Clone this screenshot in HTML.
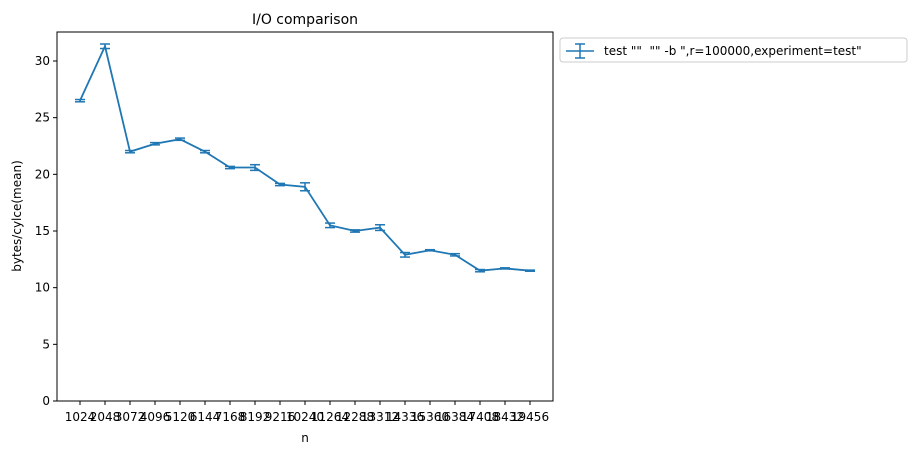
<!DOCTYPE html>
<html><head><meta charset="utf-8"><style>
body{margin:0;background:#fff;}
svg text{font-family:"DejaVu Sans","Liberation Sans",sans-serif;fill:#000;}
</style></head><body>
<svg width="917" height="455">
<text x="305" y="24" font-size="14" text-anchor="middle">I/O comparison</text>
<g id="axes"></g>
<g id="series"></g>
<rect x="57" y="32" width="496" height="369" fill="none" stroke="#000" stroke-width="1"/>
<text x="305" y="442" font-size="12" text-anchor="middle">n</text>
<text x="21" y="216" font-size="12" text-anchor="middle" transform="rotate(-90 21 216)">bytes/cylce(mean)</text>
<g>
<rect x="560" y="38" width="347" height="24" rx="3" fill="#fff" stroke="#ccc"/>
<line x1="566" y1="51" x2="594" y2="51" stroke="#1f77b4" stroke-width="1.5"/>
<line x1="580" y1="44" x2="580" y2="58" stroke="#1f77b4" stroke-width="1.5"/>
<line x1="575" y1="44" x2="585" y2="44" stroke="#1f77b4" stroke-width="1.5"/>
<line x1="575" y1="58" x2="585" y2="58" stroke="#1f77b4" stroke-width="1.5"/>
<text x="604" y="55" font-size="12" xml:space="preserve" style="white-space:pre">test ""  "" -b ",r=100000,experiment=test"</text>
</g>
</svg>
<script>
const categories=["1024","2048","3072","4096","5120","6144","7168","8192","9216","10240","11264","12288","13312","14336","15360","16384","17408","18432","19456"];
const values=[26.5,31.3,22.0,22.7,23.1,22.0,20.6,20.6,19.1,18.9,15.5,15.0,15.3,12.9,13.3,12.9,11.5,11.7,11.5];
const errors=[0.1,0.2,0.1,0.1,0.1,0.1,0.1,0.25,0.1,0.35,0.2,0.1,0.25,0.2,0.05,0.1,0.1,0.05,0.05];
const yTicks=[0,5,10,15,20,25,30];
const NS="http://www.w3.org/2000/svg";
const xS=i=>80+i*(450/(categories.length-1));
const yS=v=>401-v*(340/30);
function mk(t,a,p){const e=document.createElementNS(NS,t);for(const k in a)e.setAttribute(k,a[k]);p.appendChild(e);return e;}
const ax=document.getElementById('axes'),se=document.getElementById('series');
yTicks.forEach(v=>{
 const l=mk('line',{x1:53,x2:57,y1:yS(v),y2:yS(v),stroke:'#000'},ax);
 
 
 const t=mk('text',{x:50,y:yS(v)+4,'font-size':12,'text-anchor':'end'},ax);t.textContent=v;
 
 
});
categories.forEach((c,i)=>{
 const l=mk('line',{x1:xS(i),x2:xS(i),y1:401,y2:405,stroke:'#000'},ax);
 
 
 const t=mk('text',{x:xS(i),y:421,'font-size':12,'text-anchor':'middle'},ax);t.textContent=c;
 
 
});
const line=mk('polyline',{points:values.map((v,i)=>xS(i)+','+yS(v)).join(' '),fill:'none',stroke:'#1f77b4','stroke-width':1.8},se);


values.forEach((v,i)=>{
 const x=xS(i),y1=yS(v-errors[i]),y2=yS(v+errors[i]);
 const g=mk('g',{stroke:'#1f77b4','stroke-width':1.5},se);
 
 
 mk('line',{x1:x,x2:x,y1:y1,y2:y2},g);
 mk('line',{x1:x-5,x2:x+5,y1:y1,y2:y1},g);
 mk('line',{x1:x-5,x2:x+5,y1:y2,y2:y2},g);
});
</script>
</body></html>
